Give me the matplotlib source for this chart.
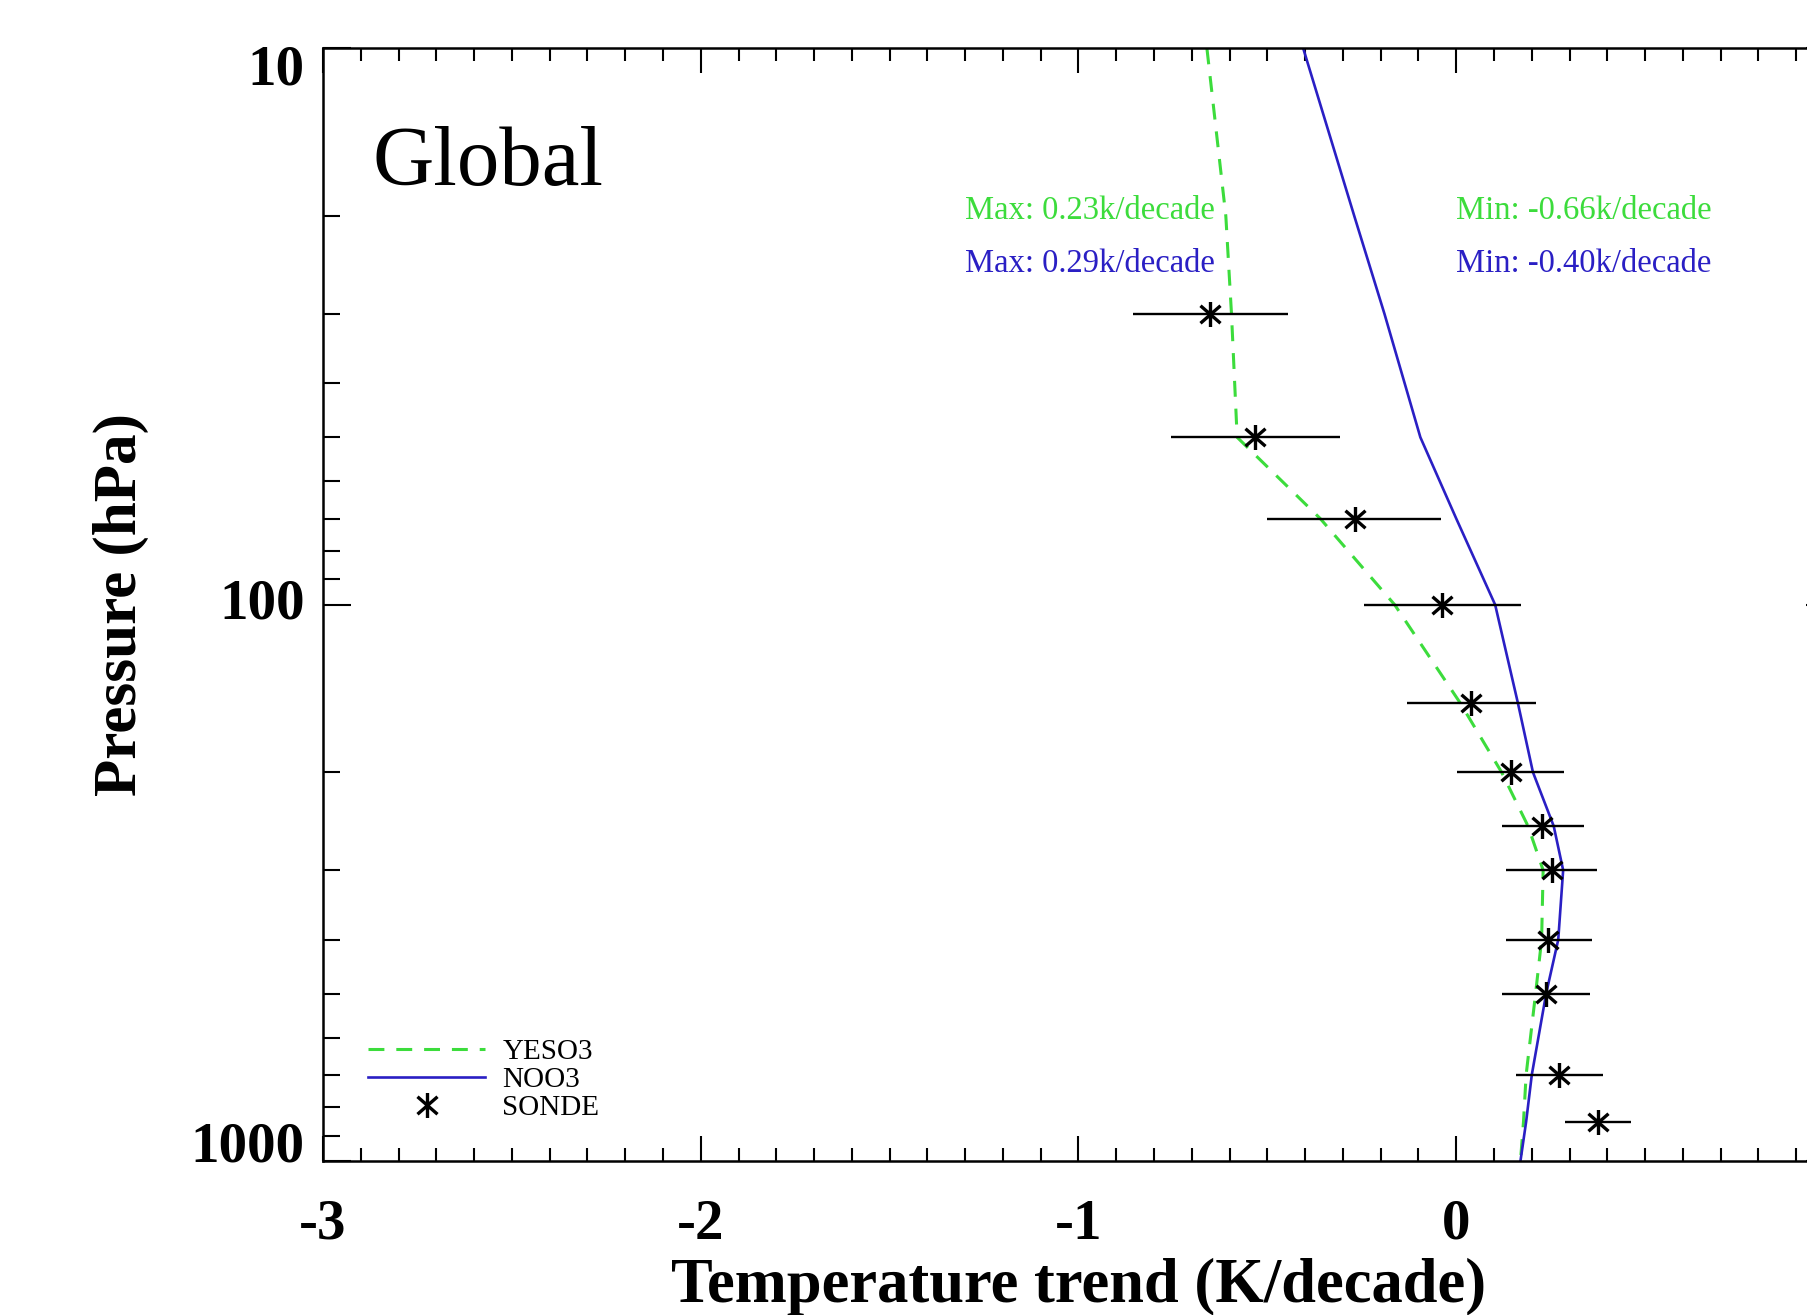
import numpy as np
import matplotlib
matplotlib.use('Agg')
import matplotlib.pyplot as plt
from matplotlib.path import Path
from matplotlib.ticker import LogLocator, NullFormatter, FixedLocator, MultipleLocator
import matplotlib.transforms as mtransforms

'''
    Global temperature trend profiles: model runs vs sondes
'''

# model profiles (pressure levels in hPa, trends in K/decade)
model_p = [10, 20, 30, 50, 70, 100, 150, 200, 250, 300, 400, 500, 700, 850, 1000]
yeso3   = [-0.66, -0.61, -0.595, -0.58, -0.36, -0.163, 0.01, 0.12, 0.19, 0.23,
           0.226, 0.21, 0.185, 0.178, 0.17]
noo3    = [-0.405, -0.27, -0.19, -0.095, 0.0, 0.103, 0.163, 0.203, 0.258, 0.283,
           0.27, 0.238, 0.20, 0.185, 0.17]

# sonde trends with the ends of their uncertainty bars
sonde_p     = [30, 50, 70, 100, 150, 200, 250, 300, 400, 500, 700, 850]
sonde_trend = [-0.652, -0.532, -0.267, -0.038, 0.038, 0.145, 0.226, 0.253, 0.244, 0.238, 0.271, 0.374]
sonde_lo    = [-0.857, -0.754, -0.500, -0.243, -0.130, 0.002, 0.121, 0.133, 0.133, 0.121, 0.157, 0.288]
sonde_hi    = [-0.446, -0.309, -0.040, 0.172, 0.212, 0.286, 0.339, 0.372, 0.360, 0.354, 0.388, 0.463]

labels = ['YESO3', 'NOO3', 'SONDE']
xticks = [-3, -2, -1, 0, 1]
xticklabels = ['-3', '-2', '-1', '0', '']   # 1 falls outside the picture
green = '#3cdc3c'
blue = '#2a1fc4'

plt.rcParams['font.family'] = ['Liberation Serif', 'DejaVu Serif']
plt.rcParams['axes.unicode_minus'] = False

fig = plt.figure(figsize=(18.08, 13.15), dpi=100)
# axes runs a little past the right edge of the picture (x = 1 is cut off)
ax = fig.add_axes([0.17865, 0.11711, 0.83573, 0.84601])

ax.plot(yeso3, model_p, color=green, lw=2.2, dashes=(5.2, 3.9), label=labels[0])
ax.plot(noo3, model_p, color=blue, lw=1.9, label=labels[1])

sonde_trend = np.array(sonde_trend)
xerr = [sonde_trend - np.array(sonde_lo), np.array(sonde_hi) - sonde_trend]
ax.errorbar(sonde_trend, sonde_p, xerr=xerr, fmt='none', ecolor='k', elinewidth=1.7, capsize=0)

# asterisk: vertical bar plus an X
star = Path([(0, -1), (0, 1), (-0.8, -0.7), (0.8, 0.7), (-0.8, 0.7), (0.8, -0.7)],
            [Path.MOVETO, Path.LINETO, Path.MOVETO, Path.LINETO, Path.MOVETO, Path.LINETO])
ax.plot(sonde_trend, sonde_p, ls='none', marker=star, ms=18, mec='k', mfc='none', mew=2.4,
        label=labels[2])

ax.set_yscale('log')
ax.set_ylim(1000, 10)
ax.set_xlim(-3, 1)

ax.set_xticks(xticks, labels=xticklabels)
ax.xaxis.set_minor_locator(MultipleLocator(0.1))
ax.set_yticks([10, 100, 1000], labels=['10', '100', '1000'])
ax.yaxis.set_minor_locator(LogLocator(subs=np.arange(2, 10)))
ax.yaxis.set_minor_formatter(NullFormatter())

ax.tick_params(which='both', direction='in', top=True, right=True, width=1.5, labelsize=41)
ax.tick_params(axis='x', which='major', length=18, pad=27)
ax.tick_params(axis='x', which='minor', length=9.5)
ax.tick_params(axis='y', which='major', length=20, pad=13)
ax.tick_params(axis='y', which='minor', length=12)
for s in ax.spines.values():
    s.set_linewidth(1.8)

for lab in ax.get_xticklabels() + ax.get_yticklabels():
    lab.set_fontweight('bold')
ylabs = ax.get_yticklabels()
ylabs[0].set_va('top')
ylabs[0].set_transform(ylabs[0].get_transform()
                       + mtransforms.ScaledTranslation(0, 0.04, fig.dpi_scale_trans))
ylabs[1].set_va('center')
ylabs[2].set_va('baseline')

ax.set_xlabel('Temperature trend (K/decade)', fontsize=45, fontweight='bold', va='center')
ax.xaxis.set_label_coords(0.5, -0.113)
ax.set_ylabel('Pressure (hPa)', fontsize=44, fontweight='bold', va='center')
ax.yaxis.set_label_coords(-0.1337, 0.5)

ax.text(0.033, 0.877, 'Global', transform=ax.transAxes, fontsize=61, va='baseline')

ax.text(-1.3, 19.6, 'Max: 0.23k/decade', color=green, fontsize=23.5, va='center')
ax.text(-1.3, 24.4, 'Max: 0.29k/decade', color=blue, fontsize=23.5, va='center')
ax.text(0.0, 19.6, 'Min: -0.66k/decade', color=green, fontsize=23.5, va='center')
ax.text(0.0, 24.4, 'Min: -0.40k/decade', color=blue, fontsize=23.5, va='center')

ax.legend(loc='lower left', bbox_to_anchor=(0.030, 0.036), frameon=False, fontsize=21,
          handlelength=4.0, handletextpad=0.6, labelspacing=0.05, borderpad=0,
          borderaxespad=0, numpoints=1)

fig.savefig('out.png', dpi=100)
